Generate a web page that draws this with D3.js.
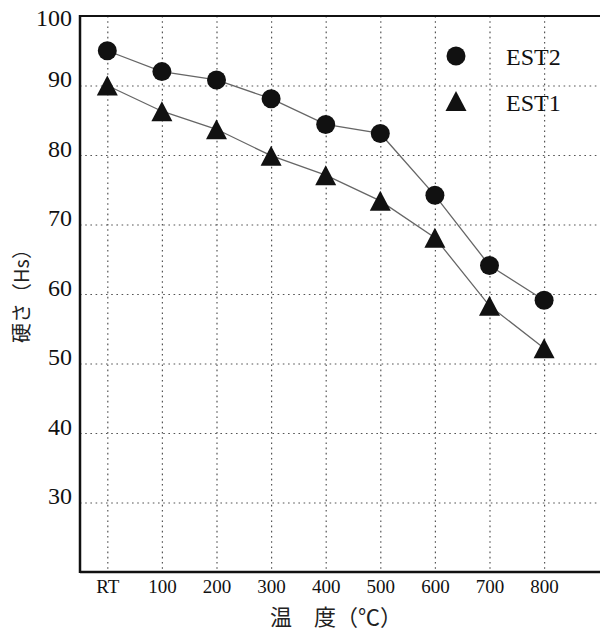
<!DOCTYPE html>
<html lang="ja">
<head>
  <meta charset="UTF-8">
  <title>硬さ vs 温度</title>
  <script src="https://d3js.org/d3.v7.min.js"></script>
  <style>
    body { margin: 0; background: #fff; }
    text { font-family: "Liberation Serif", "Noto Sans CJK JP", serif; fill: #111; }
    .title { font-family: "Noto Sans CJK JP", sans-serif; fill: #222; }
    .grid line { stroke: #555; stroke-width: 1.2; stroke-dasharray: 1.6,3.6; }
    .grid path { display: none; }
  </style>
</head>
<body>
<div id="chart"></div>
<script>
// data
var categories = ["RT", "100", "200", "300", "400", "500", "600", "700", "800"];
var est2 = [95.0, 92.0, 90.8, 88.1, 84.4, 83.1, 74.2, 64.1, 59.1];
var est1 = [90.0, 86.3, 83.7, 79.9, 77.1, 73.4, 68.1, 58.3, 52.2];
var yTicks = [30, 40, 50, 60, 70, 80, 90, 100];

var W = 600, H = 635;
var plotLeft = 80, plotTop = 16, plotBottom = 572;

var svg = d3.select("#chart").append("svg")
  .attr("width", W).attr("height", H);

var x = d3.scalePoint()
  .domain(categories)
  .range([plotLeft, 571.4])
  .padding(0.5);

var y = d3.scaleLinear()
  .domain([20, 100])
  .range([plotBottom, plotTop]);

// horizontal grid (runs off the right edge like the scan)
svg.append("g")
  .attr("class", "grid")
  .attr("transform", "translate(" + plotLeft + ",0)")
  .call(d3.axisRight(y).tickValues(yTicks.filter(function(d) { return d < 100; }))
    .tickSize(W - plotLeft).tickFormat(""));

// vertical grid
svg.append("g")
  .attr("class", "grid")
  .attr("transform", "translate(0," + plotTop + ")")
  .call(d3.axisBottom(x).tickSize(plotBottom - plotTop).tickFormat(""));

// frame: left, top, bottom
svg.append("line").attr("x1", plotLeft).attr("x2", plotLeft).attr("y1", plotTop - 1).attr("y2", plotBottom + 1)
  .attr("stroke", "#111").attr("stroke-width", 2.5);
svg.append("line").attr("x1", plotLeft).attr("x2", W).attr("y1", plotTop).attr("y2", plotTop)
  .attr("stroke", "#111").attr("stroke-width", 2);
svg.append("line").attr("x1", plotLeft).attr("x2", W).attr("y1", plotBottom).attr("y2", plotBottom)
  .attr("stroke", "#111").attr("stroke-width", 2.5);

// y tick labels: baseline sits just under the grid line, 100 drops below the frame top
var yAxis = svg.append("g")
  .attr("transform", "translate(" + plotLeft + ",0)")
  .call(d3.axisLeft(y).tickValues(yTicks).tickSize(0).tickPadding(8));
yAxis.select(".domain").remove();
yAxis.selectAll("text")
  .attr("font-size", 24)
  .attr("dy", function(d) { return d === 100 ? 9 : 1; })
  .style("font-family", '"Liberation Serif", serif')
  .attr("fill", "#111");

// x tick labels
var xAxis = svg.append("g")
  .attr("transform", "translate(0," + plotBottom + ")")
  .call(d3.axisBottom(x).tickSize(0).tickPadding(8));
xAxis.select(".domain").remove();
xAxis.selectAll("text")
  .attr("font-size", 19)
  .style("font-family", '"Liberation Serif", serif')
  .attr("fill", "#111");

// axis titles
svg.append("text")
  .attr("class", "title")
  .attr("x", 270).attr("y", 625)
  .attr("font-size", 22)
  .text("温\u3000度（℃）");

svg.append("text")
  .attr("class", "title")
  .attr("transform", "translate(29,291) rotate(-90)")
  .attr("text-anchor", "middle")
  .attr("font-size", 20)
  .text("硬さ（Hs）");

// triangle marker, ~21 wide and 20 tall, centred on its box
var tri = {
  draw: function(ctx, size) {
    var w = 10.5, h = 10;
    ctx.moveTo(0, -h);
    ctx.lineTo(w, h);
    ctx.lineTo(-w, h);
    ctx.closePath();
  }
};

var line = d3.line()
  .x(function(d, i) { return x(categories[i]); })
  .y(function(d) { return y(d); });

[est2, est1].forEach(function(s) {
  svg.append("path")
    .datum(s)
    .attr("d", line)
    .attr("fill", "none")
    .attr("stroke", "#666")
    .attr("stroke-width", 1.3);
});

svg.selectAll(".est2")
  .data(est2)
  .enter().append("circle")
  .attr("class", "est2")
  .attr("cx", function(d, i) { return x(categories[i]); })
  .attr("cy", function(d) { return y(d); })
  .attr("r", 9.5)
  .attr("fill", "#111");

svg.selectAll(".est1")
  .data(est1)
  .enter().append("path")
  .attr("class", "est1")
  .attr("transform", function(d, i) { return "translate(" + x(categories[i]) + "," + y(d) + ")"; })
  .attr("d", d3.symbol(tri))
  .attr("fill", "#111");

// legend
var legend = svg.append("g");
legend.append("circle").attr("cx", 456).attr("cy", 56).attr("r", 9.5).attr("fill", "#111");
legend.append("text").attr("x", 506).attr("y", 65).attr("font-size", 24).text("EST2");
legend.append("path").attr("transform", "translate(456,101)").attr("d", d3.symbol(tri)).attr("fill", "#111");
legend.append("text").attr("x", 506).attr("y", 111).attr("font-size", 24).text("EST1");
</script>
</body>
</html>
